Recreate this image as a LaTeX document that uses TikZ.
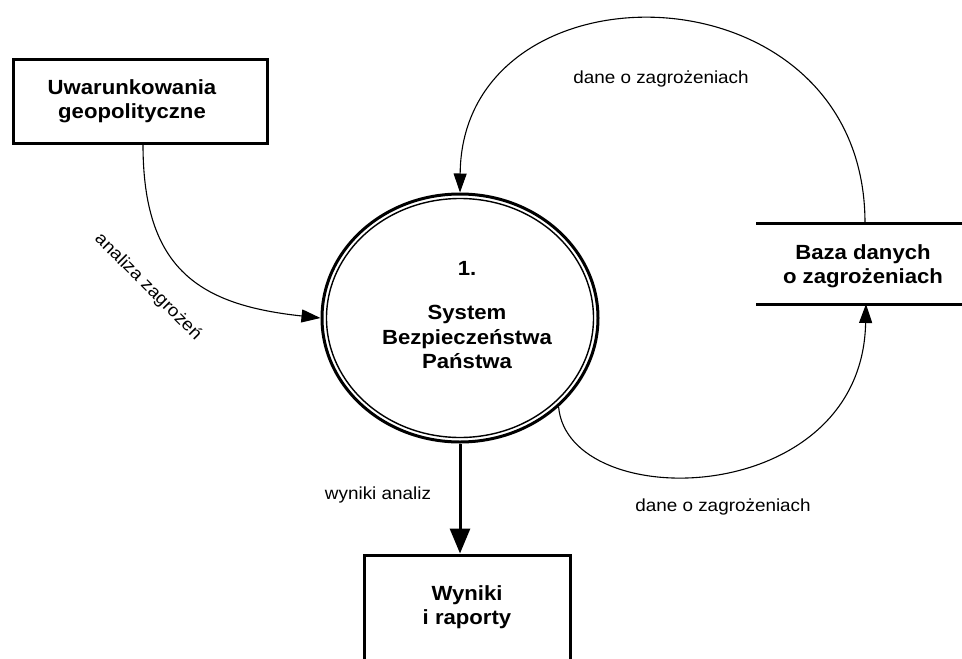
\documentclass[tikz,border=0pt]{standalone}
\usepackage{fontspec}
\setmainfont{Liberation Sans}[FakeStretch=1.08]
\usetikzlibrary{arrows.meta,shapes.geometric}
\begin{document}
\begin{tikzpicture}[x=1pt,y=-1pt,
  boxline/.style={draw,line width=3pt},
  bold/.style={font=\bfseries\fontsize{20.5}{24.5}\selectfont, align=center, inner sep=0pt},
  lbl/.style={font=\fontsize{17.5}{20}\selectfont, inner sep=1pt},
  flow/.style={line width=1.1pt,-{Triangle[length=19pt,width=13pt]}},
  bigflow/.style={line width=3pt,-{Triangle[length=25pt,width=20pt]}},
]
\useasboundingbox (0,0) rectangle (962,659);
\fill[white] (0,0) rectangle (962,659);

% external entity
\node[boxline, rectangle, minimum width=254pt, minimum height=84pt, inner sep=0pt] (geo) at (140,101) {};
\node[bold] (geotxt) at (132,101) {Uwarunkowania\\geopolityczne};

% process
\node[ellipse, draw, line width=3pt, minimum width=276pt, minimum height=248pt, inner sep=0pt] (sys) at (460,318) {};
\draw[line width=1.4pt] (sys.center) ellipse [x radius=133.5, y radius=119.5];
\node[bold] (systxt) at (467,315) {1.\\[20pt]System\\Bezpieczeństwa\\Państwa};

% data store
\node[bold] (baza) at (863,266) {Baza danych\\o zagrożeniach};
\coordinate (bazaTL) at (756,223);
\coordinate (bazaTR) at (962,223);
\coordinate (bazaBL) at (756,304);
\coordinate (bazaBR) at (962,304);
\coordinate (bazaTop) at (865,223);
\coordinate (bazaBot) at (866,304);
\draw[line width=3pt] (bazaTL) -- (bazaTR);
\draw[line width=3pt] (bazaBL) -- (bazaBR);

% results
\node[boxline, rectangle, minimum width=206pt, minimum height=150pt, inner sep=0pt] (wyn) at (467,630) {};
\node[bold] (wyntxt) at (467,607) {Wyniki\\i raporty};

% flows
\draw[flow] ([xshift=3pt]geo.south) .. controls (143,270) and (200,305) .. (sys.west);
\draw[flow] (bazaTop) .. controls (865,-40) and (462,-45) .. (sys.north);
\draw[flow] (sys.-42) .. controls (568,515) and (862,510) .. (bazaBot);
\draw[bigflow] (sys.south) -- (sys.south |- wyn.north);

% labels
\node[lbl] (l1) at (661,79) {dane o zagrożeniach};
\node[lbl] (l2) at (723,507) {dane o zagrożeniach};
\node[lbl] (l3) at (378,495) {wyniki analiz};
\node[lbl, rotate=-45] (l4) at (148,287) {analiza zagrożeń};
\end{tikzpicture}
\end{document}
